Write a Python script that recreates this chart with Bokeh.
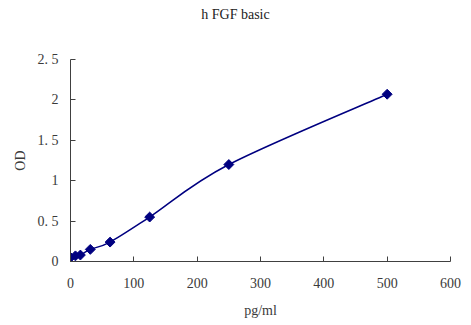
import math
from bokeh.plotting import figure
from bokeh.embed import file_html
from bokeh.resources import INLINE
from bokeh.models import Range1d, FixedTicker, Div
from bokeh.layouts import column

conc = [0, 7.8, 15.6, 31.25, 62.5, 125, 250, 500]
od = [0.05, 0.07, 0.08, 0.15, 0.24, 0.55, 1.20, 2.07]
x_ticks = [0, 100, 200, 300, 400, 500, 600]
y_ticks = [0, 0.5, 1, 1.5, 2, 2.5]
y_labels = ["0", "0. 5", "1", "1. 5", "2", "2. 5"]
title_text = "h FGF basic"

FONT = "Liberation Serif"
TXT = "#3a3a3a"

title = Div(text=title_text, width=471, height=30, margin=0,
            styles={"font-family": FONT, "font-size": "14px", "color": "#222222",
                    "text-align": "center", "line-height": "30px", "width": "471px"})

p = figure(width=471, height=295, output_backend="svg", toolbar_location=None,
           x_range=Range1d(0, 600), y_range=Range1d(0, 2.5), margin=0,
           min_border_left=70, min_border_right=21, min_border_top=29, min_border_bottom=64)
p.outline_line_color = None
p.xgrid.visible = False
p.ygrid.visible = False

# smooth curve through the data (Excel-style smoothing) using bezier segments
n = len(conc)
x0s, y0s, x1s, y1s, cx0, cy0, cx1, cy1 = [], [], [], [], [], [], [], []
for i in range(n - 1):
    pm = (conc[max(i - 1, 0)], od[max(i - 1, 0)])
    pa = (conc[i], od[i])
    pb = (conc[i + 1], od[i + 1])
    pn = (conc[min(i + 2, n - 1)], od[min(i + 2, n - 1)])
    t = 1 / 6.0
    x0s.append(pa[0]); y0s.append(pa[1])
    x1s.append(pb[0]); y1s.append(pb[1])
    cx0.append(pa[0] + (pb[0] - pm[0]) * t)
    cy0.append(pa[1] + (pb[1] - pm[1]) * t)
    cx1.append(pb[0] - (pn[0] - pa[0]) * t)
    cy1.append(pb[1] - (pn[1] - pa[1]) * t)

p.bezier(x0=x0s, y0=y0s, x1=x1s, y1=y1s, cx0=cx0, cy0=cy0, cx1=cx1, cy1=cy1,
         line_color="#000080", line_width=1.5)
p.scatter(conc, od, marker="square", size=7, angle=math.pi / 4,
          fill_color="#000080", line_color="#000080")

for ax in (p.xaxis[0], p.yaxis[0]):
    ax.axis_line_color = "#404040"
    ax.axis_line_width = 1
    ax.major_tick_line_color = "#404040"
    ax.major_tick_in = 5
    ax.major_tick_out = 0
    ax.minor_tick_line_color = None
    ax.major_label_text_font = FONT
    ax.major_label_text_font_size = "14px"
    ax.major_label_text_color = TXT
    ax.axis_label_text_font = FONT
    ax.axis_label_text_font_size = "14px"
    ax.axis_label_text_font_style = "normal"
    ax.axis_label_text_color = TXT

p.xaxis[0].ticker = FixedTicker(ticks=x_ticks)
p.yaxis[0].ticker = FixedTicker(ticks=y_ticks)
p.yaxis[0].major_label_overrides = {t: l for t, l in zip(y_ticks, y_labels)}
p.xaxis[0].axis_label = "pg/ml"
p.yaxis[0].axis_label = "OD"
p.xaxis[0].major_label_standoff = 16
p.yaxis[0].major_label_standoff = 12
p.xaxis[0].axis_label_standoff = 12
p.yaxis[0].axis_label_standoff = 7

layout = column(title, p, spacing=0, margin=0)
open("out.html", "w").write(file_html(layout, INLINE))
